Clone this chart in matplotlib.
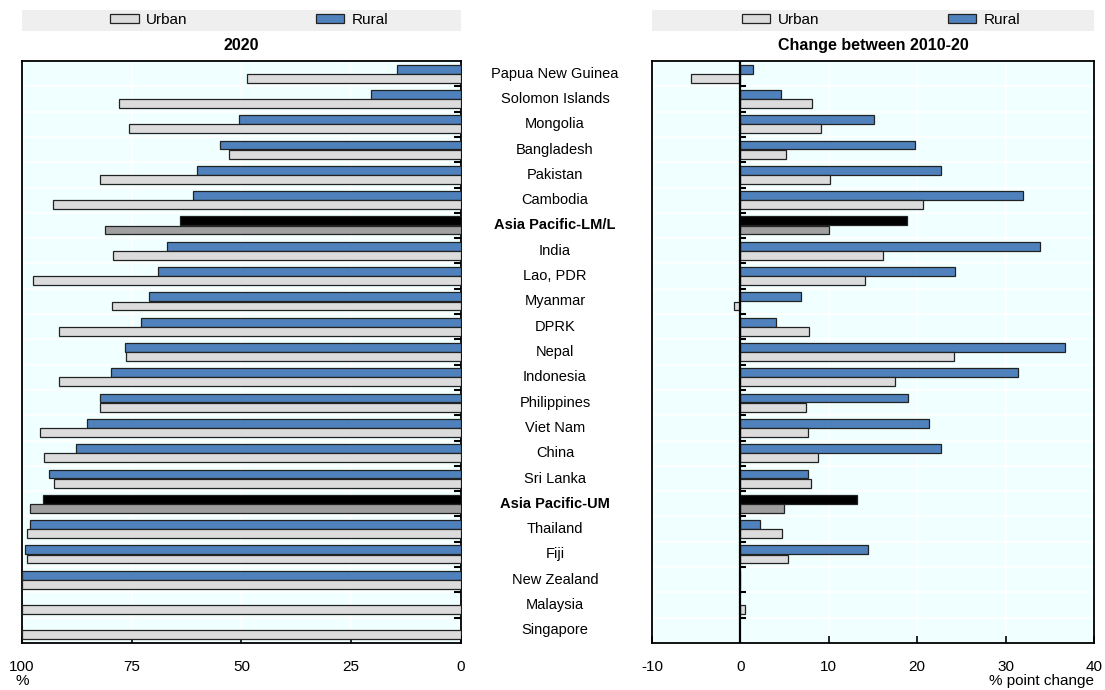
import numpy as np
import matplotlib.pyplot as plt
from matplotlib.patches import Patch, Rectangle
import matplotlib.transforms as mtransforms

plt.rcParams['font.family'] = ['Liberation Sans', 'DejaVu Sans']
plt.rcParams['font.size'] = 10.5
plt.rcParams['axes.unicode_minus'] = False

# ─── Data ─────────────────────────────────────────────────────────────────────
countries = [
    'Papua New Guinea', 'Solomon Islands', 'Mongolia', 'Bangladesh', 'Pakistan',
    'Cambodia', 'Asia Pacific-LM/L', 'India', 'Lao, PDR', 'Myanmar', 'DPRK',
    'Nepal', 'Indonesia', 'Philippines', 'Viet Nam', 'China', 'Sri Lanka',
    'Asia Pacific-UM', 'Thailand', 'Fiji', 'New Zealand', 'Malaysia', 'Singapore',
]
aggregates = ['Asia Pacific-LM/L', 'Asia Pacific-UM']

# share of population, 2020 (%)
rural_2020 = [14.6, 20.5, 50.6, 54.9, 60.1, 61.0, 64.0, 67.0, 69.0, 71.0, 72.9,
              76.6, 79.7, 82.2, 85.1, 87.8, 93.8, 95.2, 98.2, 99.3, 100.0,
              np.nan, np.nan]
urban_2020 = [48.7, 77.9, 75.6, 52.8, 82.3, 93.0, 81.1, 79.2, 97.5, 79.4, 91.6,
              76.3, 91.6, 82.3, 96.0, 95.1, 92.6, 98.2, 98.9, 98.9, 100.0,
              100.0, 100.0]

# change between 2010 and 2020 (% points)
rural_chg = [1.4, 4.6, 15.1, 19.8, 22.7, 32.0, 18.8, 33.9, 24.3, 6.8, 4.0,
             36.7, 31.4, 19.0, 21.3, 22.7, 7.7, 13.2, 2.2, 14.4, 0.0,
             np.nan, np.nan]
urban_chg = [-5.6, 8.1, 9.1, 5.2, 10.1, 20.6, 10.0, 16.1, 14.1, -0.7, 7.8,
             24.2, 17.5, 7.4, 7.7, 8.8, 8.0, 4.9, 4.7, 5.4, 0.0,
             0.5, np.nan]

# ─── Style ────────────────────────────────────────────────────────────────────
BLUE = '#4f81bd'
LIGHT = '#dcdcdc'
EDGE = '#222222'
BG = '#f0ffff'
BAND = '#efefef'

n = len(countries)
y = np.arange(n)
bounds = np.arange(n - 1) + 0.5
h = 0.35
off = 0.18

is_agg = np.array([c in aggregates for c in countries])
rural_col = np.where(is_agg, 'black', BLUE)
urban_col = np.where(is_agg, '#a0a0a0', LIGHT)

fig = plt.figure(figsize=(11.05, 6.9), dpi=100)
W, H = 1105, 690
ax1 = fig.add_axes([22 / W, 1 - 643 / H, (461 - 22) / W, 582 / H])
ax2 = fig.add_axes([652 / W, 1 - 643 / H, (1094 - 652) / W, 582 / H])


def draw_bars(ax, rural, urban):
    rural = np.asarray(rural, float)
    urban = np.asarray(urban, float)
    m = ~np.isnan(rural)
    ax.barh(y[m] - off, rural[m], height=h, color=rural_col[m],
            edgecolor=EDGE, linewidth=0.9, zorder=3)
    m = ~np.isnan(urban)
    ax.barh(y[m] + off, urban[m], height=h, color=urban_col[m],
            edgecolor=EDGE, linewidth=0.9, zorder=3)


def frame(ax, title):
    ax.set_facecolor(BG)
    ax.set_ylim(n - 0.5, -0.5)
    ax.set_yticks([])
    ax.set_yticks(bounds, minor=True)
    ax.grid(True, which='major', axis='x', color='white', linewidth=1.3, zorder=0)
    ax.grid(True, which='minor', axis='y', color='white', linewidth=1.3, zorder=0)
    ax.set_axisbelow(True)
    for s in ax.spines.values():
        s.set_linewidth(1.3)
        s.set_color('black')
    ax.tick_params(axis='x', direction='in', length=5, width=1.2, pad=12,
                   labelsize=11)
    # legend band
    ax.add_patch(Rectangle((0, 1.0515), 1, 0.036, transform=ax.transAxes,
                           facecolor=BAND, edgecolor='none', clip_on=False))
    handles = [Patch(facecolor=LIGHT, edgecolor=EDGE, linewidth=0.9, label='Urban'),
               Patch(facecolor=BLUE, edgecolor=EDGE, linewidth=0.9, label='Rural')]
    ax.legend(handles=handles, loc='center', bbox_to_anchor=(0.518, 1.07),
              ncol=2, frameon=False, fontsize=11, handlelength=1.85,
              handleheight=0.55, handletextpad=0.5, columnspacing=8.4,
              borderaxespad=0)
    ax.text(0.5, 1.026, title, transform=ax.transAxes, ha='center',
            va='center', fontsize=11.5, fontweight='bold')


# ─── Left panel: 2020 levels ──────────────────────────────────────────────────
draw_bars(ax1, rural_2020, urban_2020)
frame(ax1, '2020')
ax1.set_xlim(100, 0)
ax1.set_xticks([100, 75, 50, 25, 0])
ax1.tick_params(axis='y', which='minor', left=False, right=True,
                direction='in', length=5, width=1.5)
ax1.text(0.0, -0.065, '%', transform=ax1.transAxes, ha='center', va='center',
         fontsize=11)

# ─── Right panel: change 2010-20 ──────────────────────────────────────────────
draw_bars(ax2, rural_chg, urban_chg)
frame(ax2, 'Change between 2010-20')
ax2.set_xlim(-10, 40)
ax2.set_xticks([-10, 0, 10, 20, 30, 40])
ax2.tick_params(axis='y', which='minor', left=False, right=False)
ax2.axvline(0, color='black', linewidth=1.6, zorder=4)
ax2.hlines(bounds, 0, 0.6, color='black', linewidth=1.5, zorder=4)
ax2.text(1.0, -0.066, '% point change', transform=ax2.transAxes, ha='right',
         va='center', fontsize=11)

# ─── Country labels between panels ────────────────────────────────────────────
trans = mtransforms.blended_transform_factory(fig.transFigure, ax1.transData)
for yi, name, agg in zip(y, countries, is_agg):
    ax1.text(555 / W, yi, name, transform=trans, ha='center', va='center',
             fontsize=10.5, fontweight='bold' if agg else 'normal',
             clip_on=False)

fig.savefig('out.png', dpi=100)
